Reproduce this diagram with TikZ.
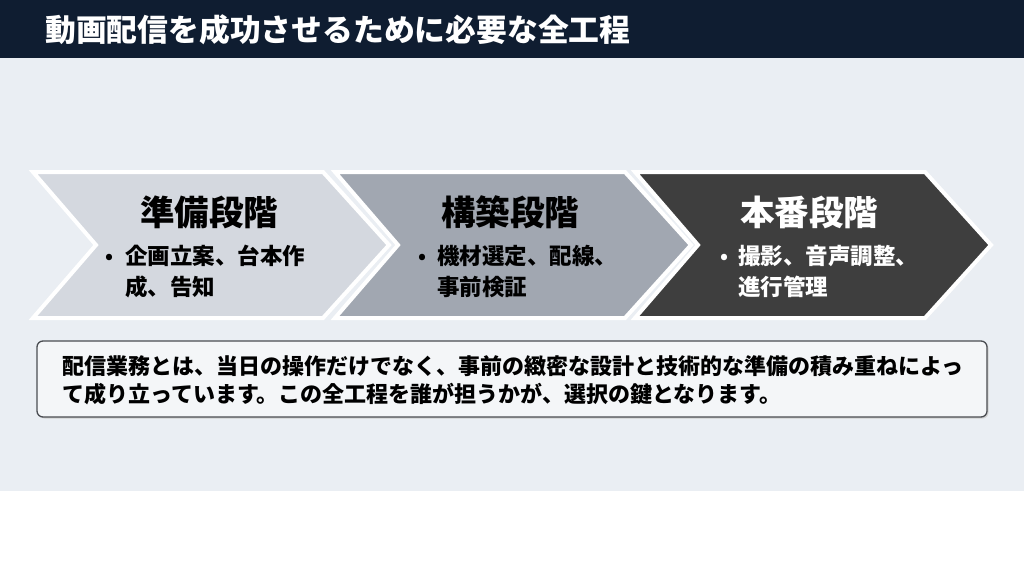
\documentclass[tikz,border=0pt]{standalone}
\usepackage{fontspec}
\setmainfont{Noto Sans CJK JP}
\definecolor{hdr}{HTML}{0F1D31}
\definecolor{bgc}{HTML}{EAEEF3}
\definecolor{chA}{HTML}{D4D8DF}
\definecolor{chB}{HTML}{A1A7B1}
\definecolor{chC}{HTML}{3E3E3E}
\definecolor{boxfill}{HTML}{F4F6F8}
\definecolor{boxline}{HTML}{4A4D52}
\tikzset{
  chev/.style={draw=white, line width=4pt, line join=miter},
  stagetitle/.style={font=\fontsize{34.5}{40}\selectfont\bfseries, inner sep=0pt},
  bul/.style={font=\fontsize{20}{24}\selectfont\bfseries, inner sep=0pt},
  itemtext/.style={font=\fontsize{22.5}{31}\selectfont\bfseries, inner sep=0pt, anchor=north west, align=left},
}
\begin{document}
\begin{tikzpicture}[x=1pt,y=-1pt]
\useasboundingbox (0,0) rectangle (1024,576);
\fill[white] (0,0) rectangle (1024,576);
\fill[bgc] (0,58) rectangle (1024,491);
\fill[hdr] (0,0) rectangle (1024,58);
\node[anchor=west, text=white, font=\fontsize{30.8}{36}\selectfont\bfseries, inner sep=0pt] (title) at (45,30) {動画配信を成功させるために必要な全工程};

% chevrons
\foreach \x/\c in {33/chA, 335/chB, 635/chC}{
  \path[chev, fill=\c] (\x,172) -- (\x+290,172) -- (\x+356,245) -- (\x+290,318) -- (\x,318) -- (\x+63,245) -- cycle;
}

% stage 1
\node[stagetitle] (t1) at (209,212) {準備段階};
\node[bul] (b1) at (109,259) {•};
\node[itemtext] (i1) at (125,245) {企画立案、台本作\\成、告知};
% stage 2
\node[stagetitle] (t2) at (510,212) {構築段階};
\node[bul] (b2) at (422,259) {•};
\node[itemtext] (i2) at (437,245) {機材選定、配線、\\事前検証};
% stage 3
\node[stagetitle, text=white] (t3) at (809,212) {本番段階};
\node[bul, text=white] (b3) at (724,259) {•};
\node[itemtext, text=white] (i3) at (738,245) {撮影、音声調整、\\進行管理};

% summary box
\fill[black!18, rounded corners=6pt] (38.5,342.5) rectangle (988.5,418.5);
\draw[boxline, fill=boxfill, line width=1.3pt, rounded corners=6pt] (37,341) rectangle (987,417);
\node[anchor=west, align=left, inner sep=0pt, font=\fontsize{22}{28}\selectfont\bfseries] (sum) at (62,380) {配信業務とは、当日の操作だけでなく、事前の緻密な設計と技術的な準備の積み重ねによっ\\て成り立っています。この全工程を誰が担うかが、選択の鍵となります。};
\end{tikzpicture}
\end{document}
